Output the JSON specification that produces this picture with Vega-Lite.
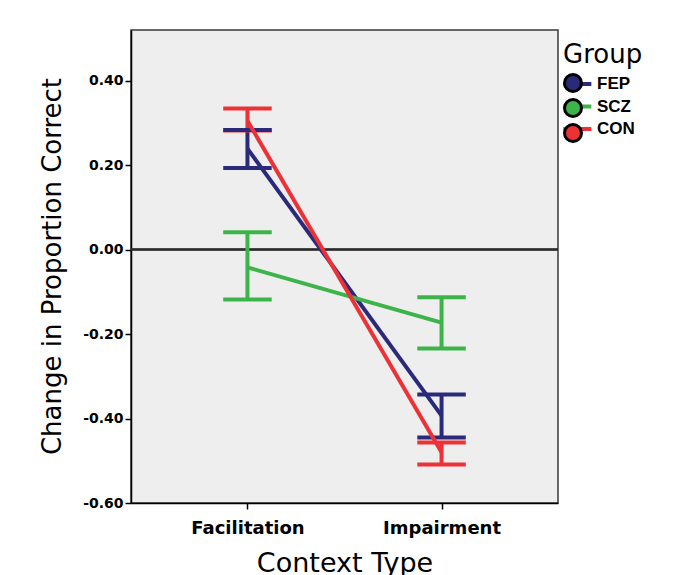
{
  "$schema": "https://vega.github.io/schema/vega-lite/v6.json",
  "autosize": "none",
  "padding": {"left": 131, "top": 30, "right": 115, "bottom": 72},
  "width": 427,
  "height": 473,
  "background": "white",
  "config": {"view": {"fill": "#eeeeee", "stroke": "#3a3a3a", "strokeWidth": 1.5}},
  "data": {"values": [
    {"Context": "Facilitation", "Group": "FEP", "mean": 0.239, "lo": 0.193, "hi": 0.283},
    {"Context": "Impairment", "Group": "FEP", "mean": -0.393, "lo": -0.445, "hi": -0.343},
    {"Context": "Facilitation", "Group": "SCZ", "mean": -0.042, "lo": -0.118, "hi": 0.041},
    {"Context": "Impairment", "Group": "SCZ", "mean": -0.173, "lo": -0.234, "hi": -0.113},
    {"Context": "Facilitation", "Group": "CON", "mean": 0.305, "lo": 0.282, "hi": 0.334},
    {"Context": "Impairment", "Group": "CON", "mean": -0.48, "lo": -0.509, "hi": -0.457}
  ]},
  "layer": [
    {
      "mark": {"type": "rule", "stroke": "#2a2a2a", "strokeWidth": 1.5},
      "encoding": {
        "y": {"datum": 0, "type": "quantitative",
          "scale": {"domain": [-0.6, 0.52], "nice": false, "zero": false},
          "axis": {
            "title": "Change in Proportion Correct",
            "values": [-0.6, -0.4, -0.2, 0, 0.2, 0.4],
            "labelExpr": "replace(format(datum.value, '.2f'), '\u2212', '-')",
            "grid": false,
            "domainColor": "black", "domainWidth": 1.5,
            "tickColor": "black", "tickWidth": 1.5, "tickSize": 6,
            "labelFont": "DejaVu Sans", "labelFontWeight": "bold", "labelFontSize": 14, "labelColor": "black", "labelPadding": 2,
            "titleFont": "DejaVu Sans", "titleFontSize": 26, "titleFontWeight": "normal", "titleColor": "black",
            "titleX": -79, "titleY": 236, "titleAngle": 270, "titleAlign": "center", "titleBaseline": "middle"
          }
        }
      }
    },
    {
      "mark": {"type": "rule", "strokeWidth": 4},
      "encoding": {
        "x": {"field": "Context", "type": "nominal",
          "scale": {"type": "point", "padding": 0.6, "domain": ["Facilitation", "Impairment"]},
          "axis": {
            "title": "Context Type", "labelAngle": 0,
            "tickSize": 6, "tickColor": "black", "tickWidth": 1.5,
            "domainColor": "black", "domainWidth": 1.5,
            "labelFont": "DejaVu Sans", "labelFontWeight": "bold", "labelFontSize": 18, "labelColor": "black",
            "labelBaseline": "alphabetic", "labelPadding": 24,
            "titleFont": "DejaVu Sans", "titleFontSize": 27, "titleFontWeight": "normal", "titleColor": "black",
            "titleY": 68, "titleBaseline": "alphabetic"
          }
        },
        "y": {"field": "lo", "type": "quantitative"},
        "y2": {"field": "hi"},
        "stroke": {"field": "Group", "type": "nominal",
          "scale": {"domain": ["FEP", "SCZ", "CON"], "range": ["#2b2a7a", "#3cb44a", "#ec3237"]},
          "legend": {
            "orient": "none", "legendX": 432, "legendY": 11.5, "padding": 0,
            "title": "Group", "titleFont": "DejaVu Sans", "titleFontSize": 26, "titleFontWeight": "normal", "titleColor": "black", "titlePadding": 6,
            "symbolType": "M-1.2,0H2.1", "symbolSize": 289, "symbolStrokeWidth": 4,
            "labelFont": "Liberation Sans", "labelFontWeight": "bold", "labelFontSize": 17, "labelColor": "black", "labelOffset": 13,
            "rowPadding": 3.5
          }
        }
      }
    },
    {
      "mark": {"type": "tick", "size": 45, "thickness": 0.5, "fill": "transparent", "strokeWidth": 3.5, "opacity": 1},
      "encoding": {
        "x": {"field": "Context", "type": "nominal"},
        "y": {"field": "lo", "type": "quantitative"},
        "stroke": {"field": "Group", "type": "nominal"}
      }
    },
    {
      "mark": {"type": "tick", "size": 45, "thickness": 0.5, "fill": "transparent", "strokeWidth": 3.5, "opacity": 1},
      "encoding": {
        "x": {"field": "Context", "type": "nominal"},
        "y": {"field": "hi", "type": "quantitative"},
        "stroke": {"field": "Group", "type": "nominal"}
      }
    },
    {
      "mark": {"type": "line", "strokeWidth": 4},
      "encoding": {
        "x": {"field": "Context", "type": "nominal"},
        "y": {"field": "mean", "type": "quantitative"},
        "stroke": {"field": "Group", "type": "nominal"}
      }
    },
    {
      "mark": {"type": "point", "filled": true, "opacity": 0, "stroke": "black", "strokeWidth": 3},
      "encoding": {
        "x": {"field": "Context", "type": "nominal"},
        "y": {"field": "mean", "type": "quantitative"},
        "fill": {"field": "Group", "type": "nominal", "sort": null,
          "scale": {"range": ["#2b2a7a", "#3cb44a", "#ec3237"]},
          "legend": {
            "orient": "none", "legendX": 432, "legendY": 43, "padding": 0, "title": null,
            "symbolType": "circle", "symbolSize": 289, "symbolStrokeWidth": 3, "symbolStrokeColor": "black",
            "symbolOpacity": 1, "symbolFillOpacity": 1,
            "labelExpr": "''", "labelFontSize": 17, "labelOffset": 13, "rowPadding": -7.5
          }
        }
      }
    }
  ]
}
